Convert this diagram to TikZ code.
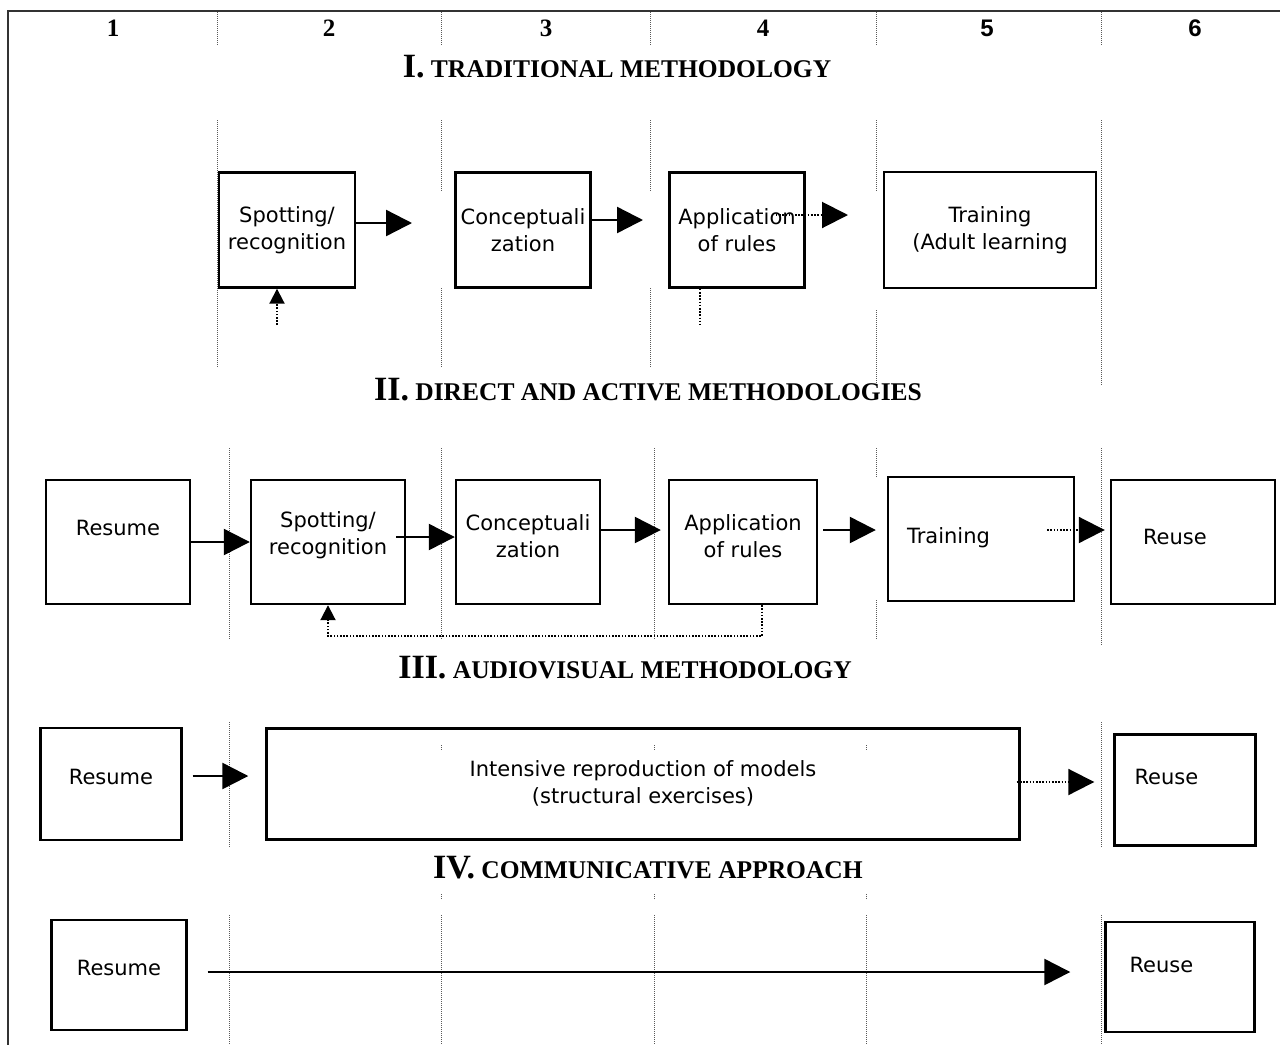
\documentclass[tikz,border=0pt]{standalone}
\usepackage{fontspec}
\setmainfont{Liberation Serif}
\setsansfont{DejaVu Sans}
\newfontfamily\arialfont{Liberation Sans}
\usetikzlibrary{arrows.meta, positioning}

\begin{document}
\begin{tikzpicture}[x=1pt, y=-1pt, line width=2.4pt,
                    box/.style = {draw, inner sep=0pt, align=center,
                                  font=\sffamily\fontsize{21}{27}\selectfont},
                    lift/.style = {text depth=#1},
                    left text/.style = {align=left, text width=#1},
                    flow/.style = {-{Triangle[length=26pt, width=26pt]}},
                    up/.style = {-{Triangle[length=15pt, width=15pt]}},
                    dots/.style = {line width=2pt, dash pattern=on 1.6pt off 1.6pt},
                    sep/.style = {line width=0.9pt, gray!70!black, dash pattern=on 1pt off 1pt},
                    num/.style = {font=\bfseries\fontsize{25}{25}\selectfont},
                    title/.style = {font=\bfseries\fontsize{25.5}{25.5}\selectfont}]
    \useasboundingbox (0,0) rectangle (1280,1045);
    \draw[line width=1.4pt, black!80] (1280,11) -- (8,11) -- (8,1045);

    % column numbers
    \foreach \i/\x in {1/113, 2/329, 3/546, 4/763}
        \node[num] (n\i) at (\x,28) {\i};
    \node[num, font=\arialfont\bfseries\fontsize{24}{24}\selectfont] (n5) at (987,28) {5};
    \node[num, font=\arialfont\bfseries\fontsize{24}{24}\selectfont] (n6) at (1195,28) {6};
    \foreach \x in {217, 441, 650, 876, 1101}
        \draw[sep] (\x,12) -- (\x,45);

    % I
    \node[title] (t1) at (617,67) {{\fontsize{34}{34}\selectfont I.} TRADITIONAL METHODOLOGY};
    \draw[sep] (217,120) -- (217,368);
    \draw[sep] (1101,120) -- (1101,385);
    \foreach \x in {441, 650}
        \draw[sep] (\x,120) -- (\x,192) (\x,288) -- (\x,368);
    \draw[sep] (876,120) -- (876,192) (876,310) -- (876,385);

    \node[box, minimum width=136, minimum height=115] (spotA) at (287,230) {Spotting/\\recognition};
    \node[box, minimum width=135, minimum height=115] (concA) at (523,230) {Conceptuali\\zation};
    \node[box, minimum width=135, minimum height=115] (applA) at (737,230) {Application\\of rules};
    \node[box, minimum width=212, minimum height=116] (trainA) at (990,230) {Training\\(Adult learning};

    \coordinate (a1) at (412,223);
    \coordinate (a2) at (643,220);
    \coordinate (a3) at (848,215);
    \coordinate (b1) at (277,325);
    \coordinate (b2) at (700,325);
    \draw[flow] (a1 -| spotA.east) -- (a1);
    \draw[flow] (a2 -| concA.east) -- (a2);
    \draw[dots, flow] ([xshift=-30pt]a3 -| applA.east) -- (a3);
    \draw[dots, up] (b1) -- (b1 |- spotA.south);
    \draw[dots] (b2 |- applA.south) -- (b2);

    % II
    \node[title] (t2) at (648,390) {{\fontsize{34}{34}\selectfont II.} DIRECT AND ACTIVE METHODOLOGIES};
    \foreach \x in {229, 441, 654}
        \draw[sep] (\x,448) -- (\x,640);
    \draw[sep] (876,448) -- (876,477) (876,600) -- (876,640);
    \draw[sep] (1101,448) -- (1101,645);

    \node[box, lift=28, minimum width=144, minimum height=124] (resB) at (118,542) {Resume};
    \node[box, lift=17, minimum width=154, minimum height=124] (spotB) at (328,542) {Spotting/\\recognition};
    \node[box, lift=12, minimum width=144, minimum height=124] (concB) at (528,542) {Conceptuali\\zation};
    \node[box, lift=12, minimum width=148, minimum height=124] (applB) at (743,542) {Application\\of rules};
    \node[box, lift=7, left text=148, minimum width=186, minimum height=124] (trainB) at (981,539) {Training};
    \node[box, lift=10, left text=100, minimum width=164, minimum height=124] (reuseB) at (1193,542) {Reuse};

    \draw[flow] (resB) -- (spotB);
    \draw[flow] ([xshift=-10pt, yshift=5pt]spotB.east) -- ([yshift=5pt]concB.west);
    \draw[flow] ([yshift=12pt]concB.east) -- ([xshift=-7pt, yshift=12pt]applB.west);
    \draw[flow] ([xshift=5pt, yshift=12pt]applB.east) -- ([xshift=-11pt, yshift=9pt]trainB.west);
    \draw[dots, flow] ([xshift=-28pt, yshift=9pt]trainB.east) -- ([xshift=-5pt, yshift=12pt]reuseB.west);
    \coordinate (b3) at (762,636);
    \draw[dots, up] (b3 |- applB.south) -- (b3) -| (spotB.south);

    % III
    \node[title] (t3) at (625,668) {{\fontsize{34}{34}\selectfont III.} AUDIOVISUAL METHODOLOGY};
    \foreach \x in {229, 1101}
        \draw[sep] (\x,722) -- (\x,847);
    \foreach \x in {441, 654, 866}
        \draw[sep] (\x,745) -- (\x,751) (\x,894) -- (\x,900);

    \node[box, lift=14, minimum width=141, minimum height=112] (resC) at (111,784) {Resume};
    \node[box, lift=4, minimum width=753, minimum height=111] (intC) at (643,784) {Intensive reproduction of models\\(structural exercises)};
    \node[box, lift=26, left text=101, minimum width=141, minimum height=111] (reuseC) at (1185,790) {Reuse};

    \draw[flow] ([xshift=10pt, yshift=8pt]resC.east) -- ([xshift=-17pt, yshift=8pt]intC.west);
    \draw[dots, flow] ([xshift=-4pt, yshift=2pt]intC.east) -- ([xshift=-19pt, yshift=8pt]reuseC.west);

    % IV
    \node[title] (t4) at (648,868) {{\fontsize{34}{34}\selectfont IV.} COMMUNICATIVE APPROACH};
    \foreach \x in {229, 441, 654, 866, 1101}
        \draw[sep] (\x,915) -- (\x,1045);

    \node[box, lift=14, minimum width=135, minimum height=110] (resD) at (119,975) {Resume};
    \node[box, lift=24, left text=101, minimum width=149, minimum height=110] (reuseD) at (1180,977) {Reuse};

    \draw[flow] ([xshift=20pt, yshift=3pt]resD.east) -- ([xshift=-34pt, yshift=5pt]reuseD.west);
\end{tikzpicture}
\end{document}
